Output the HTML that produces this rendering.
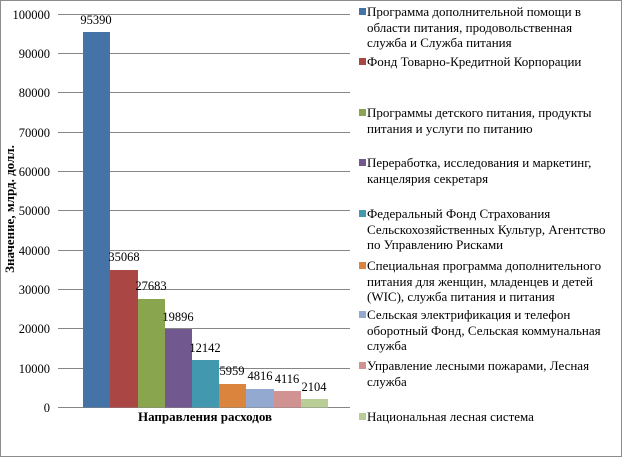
<!DOCTYPE html>
<html><head><meta charset="utf-8"><style>
body{margin:0;background:#fff}
svg text{font-family:"Liberation Serif",serif}
</style></head><body>
<svg width="624" height="458" xmlns="http://www.w3.org/2000/svg">
<rect x="0.5" y="0.5" width="621" height="456" fill="#fff" stroke="#8c8c8c"/>
<g stroke="#868686" stroke-width="1">
<line x1="58" y1="14.5" x2="350" y2="14.5"/>
<line x1="58" y1="53.5" x2="350" y2="53.5"/>
<line x1="58" y1="92.5" x2="350" y2="92.5"/>
<line x1="58" y1="132.5" x2="350" y2="132.5"/>
<line x1="58" y1="171.5" x2="350" y2="171.5"/>
<line x1="58" y1="210.5" x2="350" y2="210.5"/>
<line x1="58" y1="250.5" x2="350" y2="250.5"/>
<line x1="58" y1="289.5" x2="350" y2="289.5"/>
<line x1="58" y1="328.5" x2="350" y2="328.5"/>
<line x1="58" y1="368.5" x2="350" y2="368.5"/>
<line x1="58" y1="407.5" x2="350" y2="407.5"/>
</g>
<g font-size="12.5" text-anchor="end" fill="#000">
<text x="50" y="19">100000</text>
<text x="50" y="58">90000</text>
<text x="50" y="97">80000</text>
<text x="50" y="137">70000</text>
<text x="50" y="176">60000</text>
<text x="50" y="215">50000</text>
<text x="50" y="255">40000</text>
<text x="50" y="294">30000</text>
<text x="50" y="333">20000</text>
<text x="50" y="373">10000</text>
<text x="50" y="412">0</text>
</g>
<g>
<rect x="83" y="32" width="27" height="375.5" fill="#4572a7"/>
<rect x="110" y="270" width="28" height="137.5" fill="#aa4643"/>
<rect x="138" y="299" width="27" height="108.5" fill="#89a54e"/>
<rect x="165" y="329" width="27" height="78.5" fill="#71588f"/>
<rect x="192" y="360" width="27" height="47.5" fill="#4198af"/>
<rect x="219" y="384" width="27" height="23.5" fill="#db843d"/>
<rect x="246" y="389" width="28" height="18.5" fill="#93a9cf"/>
<rect x="274" y="391" width="27" height="16.5" fill="#d19392"/>
<rect x="301" y="399" width="27" height="8.5" fill="#b9cd96"/>
</g>
<g font-size="12.5" text-anchor="middle">
<text x="96" y="24">95390</text>
<text x="124" y="261">35068</text>
<text x="151" y="290">27683</text>
<text x="178" y="321">19896</text>
<text x="205" y="352">12142</text>
<text x="232" y="375">5959</text>
<text x="260" y="380">4816</text>
<text x="287" y="383">4116</text>
<text x="314" y="391">2104</text>
</g>
<text x="205" y="421" font-size="13" font-weight="bold" text-anchor="middle">Направления  расходов</text>
<text transform="translate(14,209) rotate(-90)" font-size="13" font-weight="bold" text-anchor="middle">Значение,  млрд. долл.</text>
<g font-size="13">
<rect x="359" y="8" width="7" height="7" fill="#4572a7"/>
<text x="367" y="16">Программа дополнительной  помощи в</text>
<text x="367" y="32">области питания, продовольственная</text>
<text x="367" y="47">служба и Служба питания</text>
<rect x="359" y="58" width="7" height="7" fill="#aa4643"/>
<text x="367" y="66">Фонд Товарно-Кредитной Корпорации</text>
<rect x="359" y="109" width="7" height="7" fill="#89a54e"/>
<text x="367" y="117">Программы детского питания, продукты</text>
<text x="367" y="133">питания и услуги по питанию</text>
<rect x="359" y="159" width="7" height="7" fill="#71588f"/>
<text x="367" y="167">Переработка, исследования и маркетинг,</text>
<text x="367" y="183">канцелярия секретаря</text>
<rect x="359" y="210" width="7" height="7" fill="#4198af"/>
<text x="367" y="218">Федеральный Фонд Страхования</text>
<text x="367" y="234">Сельскохозяйственных  Культур, Агентство</text>
<text x="367" y="249">по Управлению Рисками</text>
<rect x="359" y="262" width="7" height="7" fill="#db843d"/>
<text x="367" y="270">Специальная программа дополнительного</text>
<text x="367" y="286">питания для женщин, младенцев и детей</text>
<text x="367" y="301">(WIC), служба питания и питания</text>
<rect x="359" y="311" width="7" height="7" fill="#93a9cf"/>
<text x="367" y="319">Сельская электрификация и телефон</text>
<text x="367" y="335">оборотный Фонд,  Сельская коммунальная</text>
<text x="367" y="350">служба</text>
<rect x="359" y="362" width="7" height="7" fill="#d19392"/>
<text x="367" y="370">Управление лесными пожарами, Лесная</text>
<text x="367" y="386">служба</text>
<rect x="359" y="413" width="7" height="7" fill="#b9cd96"/>
<text x="367" y="421">Национальная лесная система</text>
</g>
</svg>
</body></html>
